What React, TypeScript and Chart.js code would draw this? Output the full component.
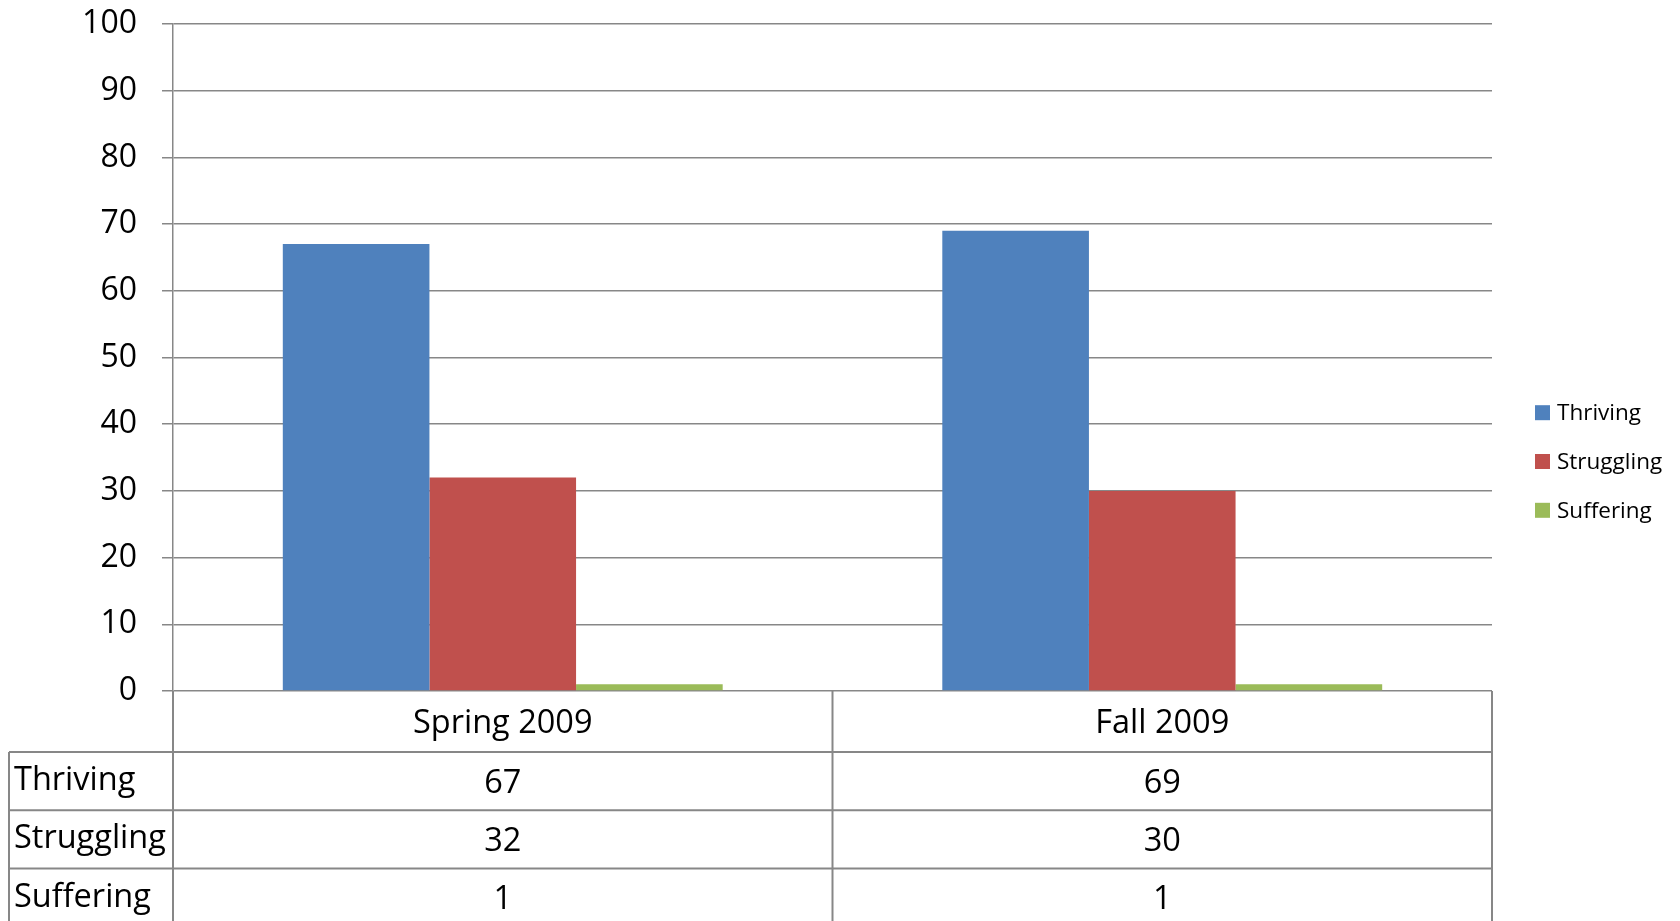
import React, { useEffect, useRef } from "react";
import { Chart, registerables } from "chart.js";

Chart.register(...registerables);

const categories = ["Spring 2009", "Fall 2009"];
const seriesNames = ["Thriving", "Struggling", "Suffering"];
const thriving = [67, 69];
const struggling = [32, 30];
const suffering = [1, 1];
const seriesColors = ["#4F81BD", "#C0504D", "#9BBB59"];
const yMin = 0;
const yMax = 100;
const yStep = 10;

const FONT = "'Open Sans', sans-serif";
const LINE = "#878787";
const W = 1680;
const H = 921;

const tableLegendPlugin = {
  id: "tableLegend",
  afterDraw(chart: any) {
    const ctx = chart.ctx as CanvasRenderingContext2D;
    const { left, right, bottom } = chart.chartArea;
    const n = chart.data.labels.length;
    const colW = (right - left) / n;
    const headerH = 61;
    const rowH = 58.3;
    const labelLeft = 9;
    const datasets = chart.data.datasets;
    const rowTops = datasets.map((_: any, i: number) => bottom + headerH + i * rowH);

    ctx.save();
    ctx.strokeStyle = LINE;
    ctx.lineWidth = 2;
    ctx.beginPath();
    rowTops.forEach((y: number) => {
      ctx.moveTo(labelLeft, y);
      ctx.lineTo(right, y);
    });
    ctx.moveTo(labelLeft, rowTops[0]);
    ctx.lineTo(labelLeft, H + 5);
    for (let i = 0; i <= n; i++) {
      const x = left + i * colW;
      ctx.moveTo(x, bottom);
      ctx.lineTo(x, H + 5);
    }
    ctx.stroke();

    ctx.fillStyle = "#000";
    ctx.font = `32.5px ${FONT}`;
    ctx.textAlign = "center";
    ctx.textBaseline = "alphabetic";
    chart.data.labels.forEach((lab: string, j: number) => {
      const cx = left + (j + 0.5) * colW;
      ctx.fillText(lab, cx, bottom + 42);
      datasets.forEach((ds: any, i: number) => {
        ctx.fillText(String(ds.data[j]), cx, rowTops[i] + 40.5);
      });
    });
    ctx.textAlign = "left";
    ctx.font = `32.5px ${FONT}`;
    datasets.forEach((ds: any, i: number) => {
      ctx.fillText(ds.label, labelLeft + 5, rowTops[i] + 38);
    });

    ctx.font = `22.5px ${FONT}`;
    const box = 15;
    const boxX = right + 43;
    const gap = 48.8;
    const midBase = H / 2 + 8.5;
    datasets.forEach((ds: any, i: number) => {
      const base = midBase + (i - (datasets.length - 1) / 2) * gap;
      ctx.fillStyle = ds.backgroundColor;
      ctx.fillRect(boxX, base - box, box, box);
      ctx.fillStyle = "#000";
      ctx.fillText(ds.label, boxX + 22, base);
    });
    ctx.restore();
  },
};

export default function App() {
  const ref = useRef<HTMLCanvasElement | null>(null);
  useEffect(() => {
    document.body.style.margin = "0";
    document.body.style.overflow = "hidden";
    const canvas = ref.current!;
    const seriesValues = [thriving, struggling, suffering];
    const chart = new Chart(canvas, {
      type: "bar",
      data: {
        labels: categories,
        datasets: seriesNames.map((name, i) => ({
          label: name,
          data: seriesValues[i],
          backgroundColor: seriesColors[i],
          borderWidth: 0,
          categoryPercentage: 0.667,
          barPercentage: 1.0,
        })),
      },
      options: {
        animation: false,
        responsive: false,
        devicePixelRatio: 1,
        layout: { padding: { left: 0, top: 24, right: W - 1492, bottom: H - 691 } },
        plugins: { legend: { display: false }, tooltip: { enabled: false } },
        scales: {
          x: { display: false },
          y: {
            min: yMin,
            max: yMax,
            ticks: { stepSize: yStep, color: "#000", padding: 25, font: { family: FONT, size: 32 } },
            grid: { color: LINE, lineWidth: 1.5, tickLength: 11, drawTicks: true },
            border: { display: true, color: LINE, width: 1.5 },
            afterFit: (scale: any) => {
              scale.width = 173;
              scale.paddingTop = 0;
              scale.paddingBottom = 0;
            },
          },
        },
      },
      plugins: [tableLegendPlugin],
    });
    return () => chart.destroy();
  }, []);
  return (
    <div style={{ position: "fixed", left: 0, top: 0, width: W, height: H, background: "#fff" }}>
      <canvas ref={ref} width={W} height={H} style={{ display: "block" }} />
    </div>
  );
}
